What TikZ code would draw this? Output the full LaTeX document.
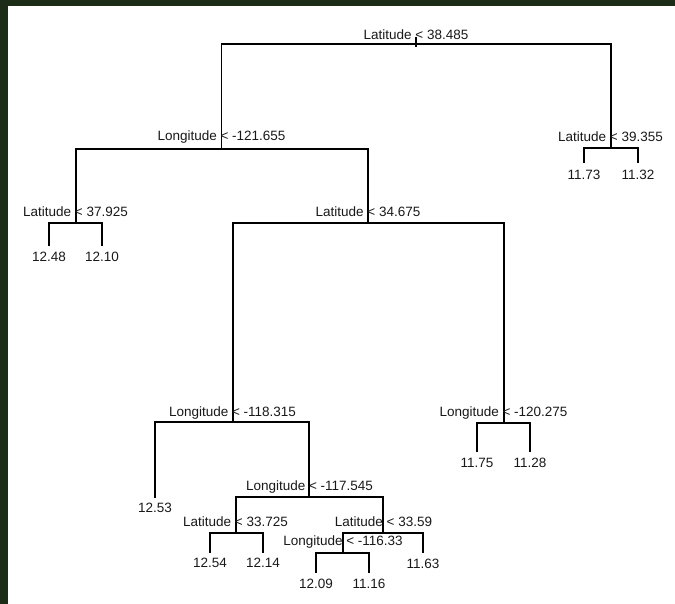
\documentclass[tikz,border=0pt]{standalone}
\usepackage{fontspec}
\setmainfont{Liberation Sans}
\definecolor{frame}{HTML}{1C2C16}
\begin{document}
\begin{tikzpicture}[x=1pt,y=-1pt,
  br/.style={line width=1.9pt,black,line cap=butt},
  lab/.style={anchor=base,inner sep=0pt,font=\fontsize{13.5}{14}\selectfont,text=black!90}]
\useasboundingbox (0,0) rectangle (675,604);
\fill[frame] (0,0) rectangle (675,604);
\fill[white] (8,6) rectangle (675,604);
% split joints
\coordinate (rtop) at (416,37);
\coordinate (r) at (416,44);
\coordinate (rbot) at (416,47);
\coordinate (L1) at (221.5,149);
\coordinate (R1) at (611,148);
\coordinate (A) at (76,223);
\coordinate (B) at (368,223);
\coordinate (C) at (233,422);
\coordinate (D) at (504,423);
\coordinate (E) at (309,497);
\coordinate (F) at (236,533);
\coordinate (G) at (383,533);
\coordinate (H) at (343,553);
% leaf ends
\coordinate (l1) at (49,246);
\coordinate (l2) at (102,246);
\coordinate (l3) at (584,163);
\coordinate (l4) at (638,163);
\coordinate (l5) at (477,452);
\coordinate (l6) at (530,452);
\coordinate (l7) at (155,498);
\coordinate (l8) at (210,553);
\coordinate (l9) at (263,553);
\coordinate (l10) at (423,553);
\coordinate (l11) at (316,573);
\coordinate (l12) at (369,573);
% branches
\draw[br] (rtop) -- (rbot);
\draw[br] (L1) |- (r) -| (R1);
\draw[br] (l3) |- (R1) -| (l4);
\draw[br] (A) |- (L1) -| (B);
\draw[br] (l1) |- (A) -| (l2);
\draw[br] (C) |- (B) -| (D);
\draw[br] (l5) |- (D) -| (l6);
\draw[br] (l7) |- (C) -| (E);
\draw[br] (F) |- (E) -| (G);
\draw[br] (l8) |- (F) -| (l9);
\draw[br] (H) |- (G) -| (l10);
\draw[br] (l11) |- (H) -| (l12);
% split labels
\node[lab] (tr) at (416,40) {Latitude < 38.485};
\node[lab] (tL1) at (221.5,140.7) {Longitude < -121.655};
\node[lab] (tR1) at (610.5,141.7) {Latitude < 39.355};
\node[lab] (tA) at (75.5,216.7) {Latitude < 37.925};
\node[lab] (tB) at (368,216.7) {Latitude < 34.675};
\node[lab] (tC) at (232.5,416) {Longitude < -118.315};
\node[lab] (tD) at (503.5,416) {Longitude < -120.275};
\node[lab] (tE) at (309.5,490) {Longitude < -117.545};
\node[lab] (tF) at (235.5,526.7) {Latitude < 33.725};
\node[lab] (tG) at (383.5,526.7) {Latitude < 33.59};
\node[lab] (tH) at (343,545) {Longitude < -116.33};
% leaf labels
\node[lab] (v1) at (49,261.7) {12.48};
\node[lab] (v2) at (102,261.7) {12.10};
\node[lab] (v3) at (584,179.3) {11.73};
\node[lab] (v4) at (638,179.3) {11.32};
\node[lab] (v5) at (477,467.3) {11.75};
\node[lab] (v6) at (530,467.3) {11.28};
\node[lab] (v7) at (155,512.7) {12.53};
\node[lab] (v8) at (210,567.3) {12.54};
\node[lab] (v9) at (263,567.3) {12.14};
\node[lab] (v10) at (423,568.3) {11.63};
\node[lab] (v11) at (316,588.3) {12.09};
\node[lab] (v12) at (369,588.3) {11.16};
\end{tikzpicture}
\end{document}
